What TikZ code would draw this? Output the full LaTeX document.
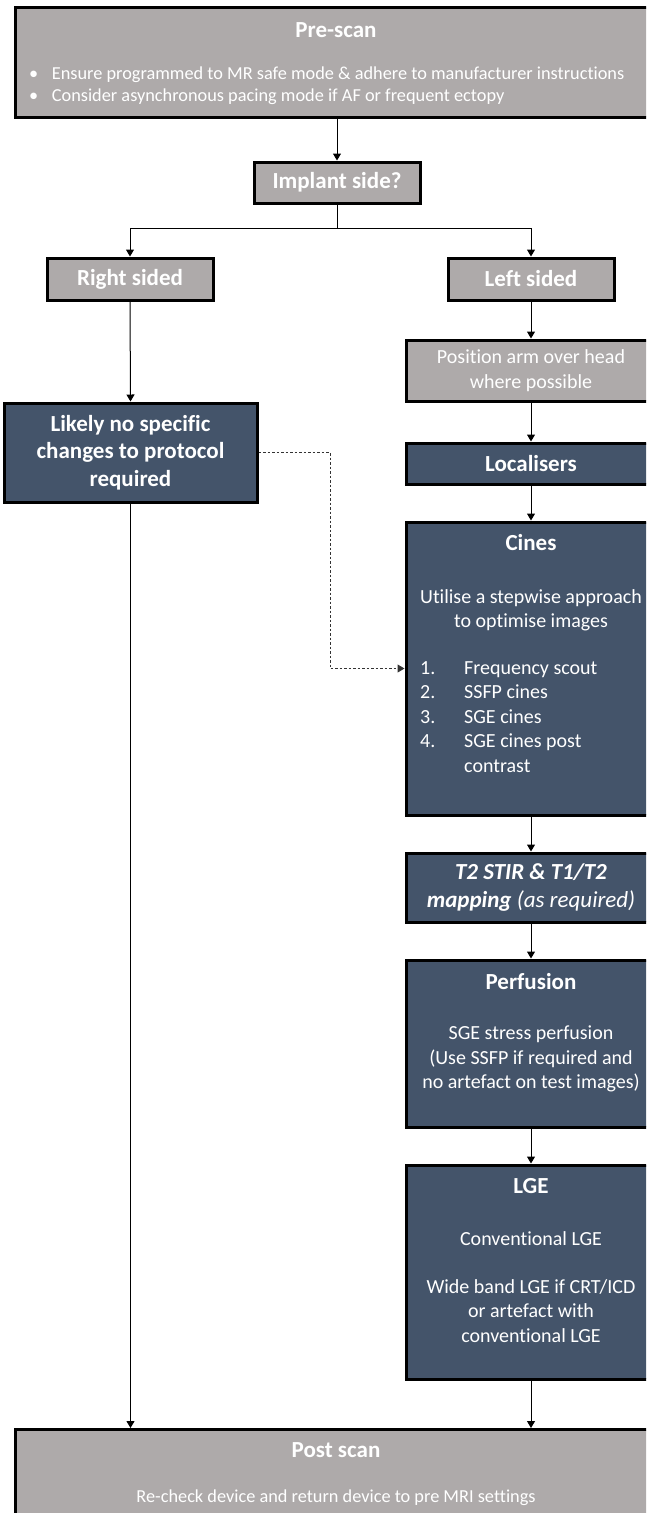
\documentclass[tikz,border=0pt]{standalone}
\usepackage{fontspec}
\setmainfont{Carlito}[Ligatures=NoCommon, RawFeature={-liga;-clig;-dlig}]
\usetikzlibrary{arrows.meta,positioning}
\definecolor{boxgray}{HTML}{AEAAAA}
\definecolor{boxblue}{HTML}{44546A}
\tikzset{
  box/.style={draw=black, line width=3pt, inner sep=0pt, text=white, align=center},
  graybox/.style={box, fill=boxgray},
  bluebox/.style={box, fill=boxblue},
  ttl/.style={text=white, inner sep=0pt, font=\fontsize{23}{28}\selectfont\bfseries},
  bodytxt/.style={text=white, inner sep=0pt, align=center, font=\fontsize{20}{24.4}\selectfont},
  smalltxt/.style={text=white, inner sep=0pt, align=left, font=\fontsize{18.3}{22}\selectfont},
  conn/.style={line width=1pt, draw=black},
  arr/.style={conn, -{Triangle[width=8pt,length=7pt]}},
  dsh/.style={arr, dash pattern=on 2.5pt off 2pt, draw=black!80}
}
\begin{document}
\begin{tikzpicture}[x=1pt, y=-1pt]
\useasboundingbox (0,0) rectangle (646,1513);
\clip (0,0) rectangle (646,1513);
\fill[white] (0,0) rectangle (646,1513);

% Pre-scan
\node[graybox, minimum width=643pt, minimum height=110pt] (pre) at (336.5,62) {};
\node[ttl] (preT) at (336,30) {Pre-scan};
\node[smalltxt, anchor=west] (preB) at (29,86) {\makebox[22.7pt][l]{•}Ensure programmed to MR safe mode \& adhere to manufacturer instructions\\\makebox[22.7pt][l]{•}Consider asynchronous pacing mode if AF or frequent ectopy};

% Implant side
\node[graybox, minimum width=166pt, minimum height=41pt, font=\fontsize{23}{28}\selectfont\bfseries] (imp) at (337,182.5) {Implant side?};
\coordinate (split) at (337,228);

% Right / Left
\node[graybox, minimum width=166pt, minimum height=42pt, font=\fontsize{23}{28}\selectfont\bfseries] (right) at (130,279) {Right sided};
\node[graybox, minimum width=166pt, minimum height=42pt, font=\fontsize{23}{28}\selectfont\bfseries] (left) at (531,279) {Left sided};

% Likely
\node[bluebox, minimum width=253pt, minimum height=99pt, font=\fontsize{23}{27.5}\selectfont\bfseries] (likely) at (130.5,452.5) {Likely no specific\\changes to protocol\\required};

% Position arm
\node[graybox, minimum width=250pt, minimum height=61pt, font=\fontsize{20}{24.4}\selectfont] (arm) at (531,370.5) {Position arm over head\\where possible};

% Localisers
\node[bluebox, minimum width=250pt, minimum height=41pt, font=\fontsize{23}{28}\selectfont\bfseries] (loc) at (531,463.5) {Localisers};

% Cines
\node[bluebox, minimum width=250pt, minimum height=293pt] (cines) at (531,668.5) {};
\node[ttl] (cinesT) at (531,543) {Cines};
\node[bodytxt] (cinesB) at (531,610) {Utilise a stepwise approach\\to optimise images};
\node[bodytxt, align=left, anchor=west] (cinesL) at (420,717) {\makebox[44pt][l]{1.}Frequency scout\\\makebox[44pt][l]{2.}SSFP cines\\\makebox[44pt][l]{3.}SGE cines\\\makebox[44pt][l]{4.}SGE cines post\\\hspace*{44pt}contrast};

% T2
\node[bluebox, minimum width=250pt, minimum height=69pt, font=\fontsize{23}{28}\selectfont] (t2) at (531,887.5) {\textbf{\textit{T2 STIR \& T1/T2}}\\\textbf{\textit{mapping}} \textit{(as required)}};

% Perfusion
\node[bluebox, minimum width=250pt, minimum height=167pt] (perf) at (531,1043.5) {};
\node[ttl] (perfT) at (531,982) {Perfusion};
\node[bodytxt] (perfB) at (531,1059) {SGE stress perfusion\\(Use SSFP if required and\\no artefact on test images)};

% LGE
\node[bluebox, minimum width=250pt, minimum height=214pt] (lge) at (531,1272) {};
\node[ttl] (lgeT) at (531,1186) {LGE};
\node[bodytxt] (lgeB1) at (531,1239) {Conventional LGE};
\node[bodytxt] (lgeB2) at (531,1311) {Wide band LGE if CRT/ICD\\or artefact with\\conventional LGE};

% Post scan
\node[graybox, minimum width=643pt, minimum height=140pt, anchor=north] (post) at (336.5,1428) {};
\node[ttl] (postT) at (336,1450) {Post scan};
\node[smalltxt, align=center] (postB) at (336,1498) {Re-check device and return device to pre MRI settings};

% Connectors
\draw[arr] (pre.south -| imp.north) -- (imp.north);
\draw[conn] (imp.south) -- (split);
\draw[arr] (split) -| (right.north);
\draw[arr] (split) -| (left.north);
\draw[arr] (right.south) -- (likely.north);
\draw[arr] (left.south) -- (arm.north);
\draw[arr] (arm.south) -- (loc.north);
\draw[arr] (loc.south) -- (cines.north);
\draw[arr] (cines.south) -- (t2.north);
\draw[arr] (t2.south) -- (perf.north);
\draw[arr] (perf.south) -- (lge.north);
\draw[arr] (lge.south) -- (lge.south |- post.north);
\draw[arr] (likely.south) -- (likely.south |- post.north);
\coordinate (dturn) at (330,452.5);
\draw[dsh] (likely.east) -- (dturn) |- (cines.west);
\end{tikzpicture}
\end{document}
